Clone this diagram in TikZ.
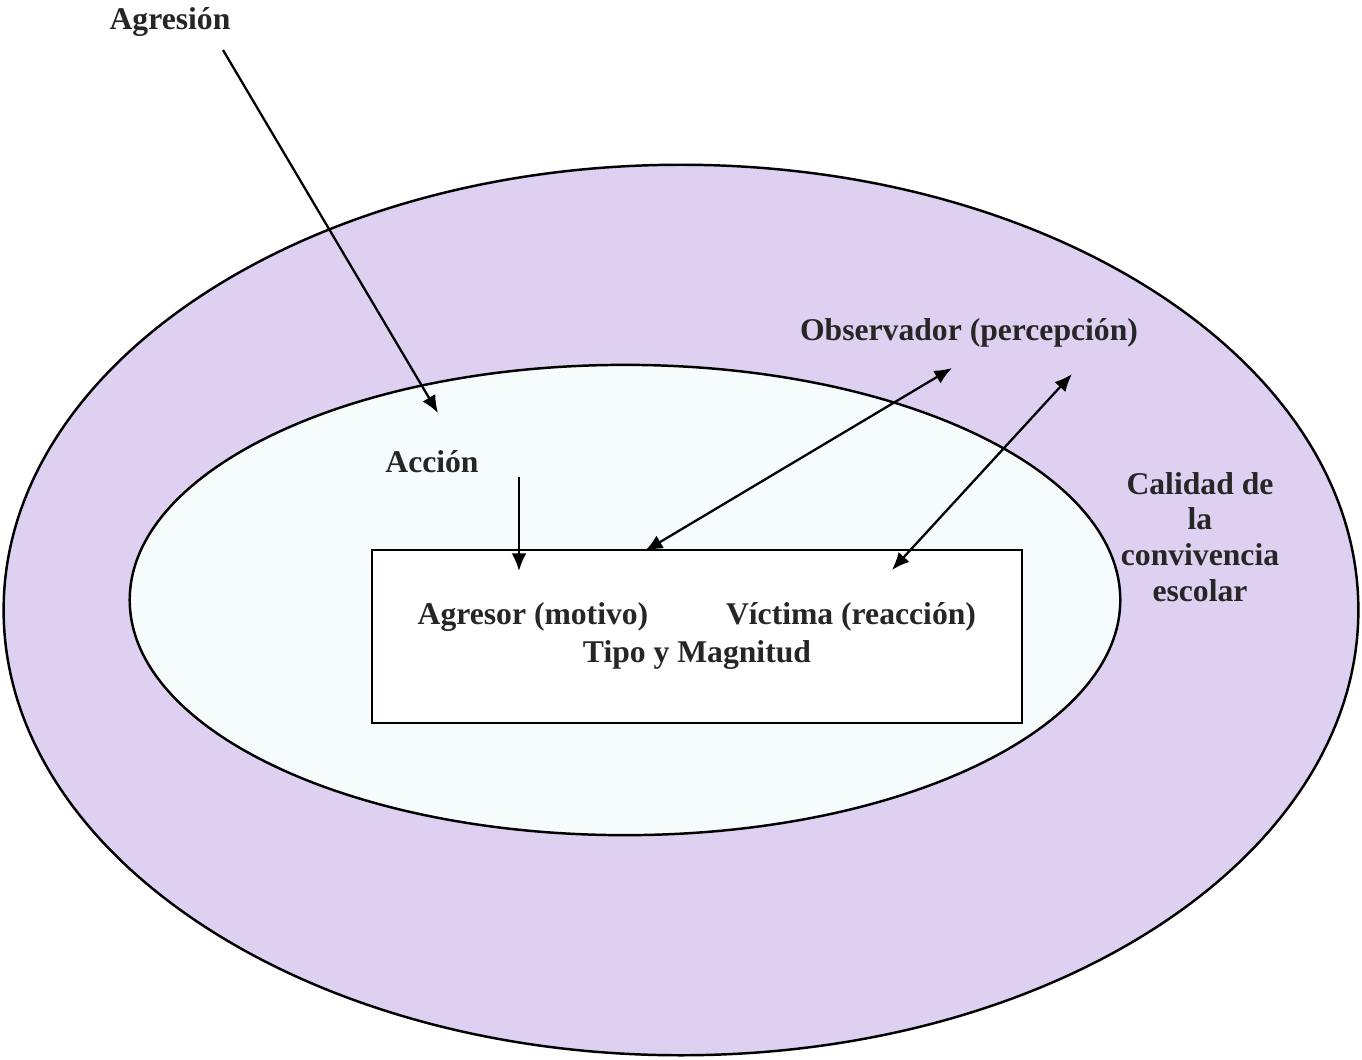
\documentclass[tikz,border=0pt]{standalone}
\usepackage{fontspec}
\setmainfont{Liberation Serif}
\usetikzlibrary{shapes.geometric,arrows.meta}
\definecolor{lav}{RGB}{222,208,240}
\definecolor{pale}{RGB}{246,251,251}
\tikzset{
  ring/.style={ellipse, draw=black, line width=0.7pt, inner sep=0pt, outer sep=0pt},
  boxnode/.style={rectangle, draw=black, fill=white, line width=0.7pt, inner sep=0pt, outer sep=0pt},
  lbl/.style={font=\bfseries\fontsize{9}{10.2}\selectfont, inner sep=0pt, align=center, text=black!85},
  arr/.style={line width=0.65pt, -{Latex[length=5pt,width=4.2pt]}},
  darr/.style={line width=0.65pt, {Latex[length=5pt,width=4.2pt]}-{Latex[length=5pt,width=4.2pt]}}
}
\begin{document}
\begin{tikzpicture}[x=0.01cm,y=-0.01cm]
\useasboundingbox (0,0) rectangle (1362,1059);
\node[ring, fill=lav, minimum width=13.54cm, minimum height=8.9cm] (outer) at (681,610) {};
\node[ring, fill=pale, minimum width=9.9cm, minimum height=4.7cm] (inner) at (625,600) {};
\node[boxnode, minimum width=6.5cm, minimum height=1.73cm] (box) at (697,636.5) {};

\node[lbl] (agresion) at (170,22) {Agresión};
\node[lbl] (observador) at (969,333) {Observador (percepción)};
\node[lbl] (accion) at (432,462) {Acción};
\node[lbl] (calidad) at (1200,537) {Calidad de\\la\\convivencia\\escolar};
\node[lbl] (agresor) at (533,617) {Agresor (motivo)};
\node[lbl] (victima) at (851,617) {Víctima (reacción)};
\node[lbl] (tipo) at (697,655) {Tipo y Magnitud};

\coordinate (a1) at (223,50);
\coordinate (a2) at (438,413);
\coordinate (c1) at (519,477);
\coordinate (c2) at (519,571);
\coordinate (o1) at (645,551);
\coordinate (o2) at (952,368);
\coordinate (v1) at (892,570);
\coordinate (v2) at (1072,374);

\draw[arr] (a1) -- (a2);
\draw[arr] (c1) -- (c2);
\draw[darr] (o1) -- (o2);
\draw[darr] (v1) -- (v2);
\end{tikzpicture}
\end{document}
